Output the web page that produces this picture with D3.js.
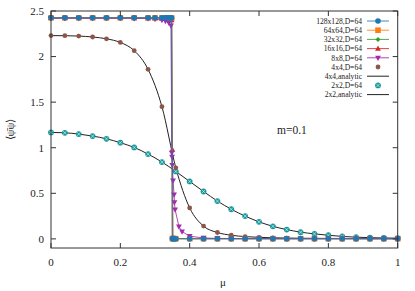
<!DOCTYPE html>
<html><head><meta charset="utf-8">
<script src="https://cdn.jsdelivr.net/npm/d3@7"></script>
<style>body{margin:0;background:#fff}svg{display:block}text{font-family:"Liberation Serif","Times New Roman",serif;fill:#222}</style>
</head><body><svg id="c" width="415" height="291"></svg>
<script>
// ---- data ----
const muCoarse = [0,0.04,0.08,0.12,0.16,0.2,0.24,0.28,0.32,0.36,0.4,0.44,0.48,0.52,0.56,0.6,0.64,0.68,0.72,0.76,0.8,0.84,0.88,0.92,0.96,1.0];
const muLarge = [0,0.04,0.08,0.12,0.16,0.2,0.24,0.28,0.3,0.32,0.33,0.335,0.34,0.343,0.346,0.348,0.35,0.352,0.355,0.36,0.4,0.44,0.48,0.52,0.56,0.6,0.64,0.68,0.72,0.76,0.8,0.84,0.88,0.92,0.96,1.0];
const val128 = [2.425,2.425,2.425,2.425,2.425,2.425,2.425,2.425,2.425,2.425,2.425,2.425,2.425,2.425,2.425,2.424,0.003,0.002,0.002,0.002,0.002,0.002,0.002,0.002,0.002,0.002,0.002,0.002,0.002,0.002,0.002,0.002,0.002,0.002,0.002,0.002];
const val64  = [2.425,2.425,2.425,2.425,2.425,2.425,2.425,2.425,2.425,2.425,2.425,2.425,2.425,2.425,2.424,2.423,0.004,0.003,0.002,0.002,0.002,0.002,0.002,0.002,0.002,0.002,0.002,0.002,0.002,0.002,0.002,0.002,0.002,0.002,0.002,0.002];
const val32  = [2.424,2.424,2.424,2.424,2.424,2.424,2.424,2.424,2.424,2.424,2.423,2.423,2.422,2.421,2.42,2.418,0.006,0.004,0.003,0.002,0.002,0.002,0.002,0.002,0.002,0.002,0.002,0.002,0.002,0.002,0.002,0.002,0.002,0.002,0.002,0.002];
const val16  = [2.423,2.423,2.423,2.423,2.423,2.423,2.423,2.422,2.421,2.419,2.417,2.415,2.413,2.41,2.405,2.4,0.98,0.012,0.006,0.004,0.002,0.002,0.002,0.002,0.002,0.002,0.002,0.002,0.002,0.002,0.002,0.002,0.002,0.002,0.002,0.002];
const mu8  = [0,0.04,0.08,0.12,0.16,0.2,0.24,0.28,0.3,0.32,0.33,0.34,0.346,0.3485,0.3492,0.35,0.352,0.355,0.356,0.358,0.369,0.378,0.4,0.44,0.48,0.52,0.56,0.6,0.64,0.68,0.72,0.76,0.8,0.84,0.88,0.92,0.96,1.0];
const val8 = [2.422,2.422,2.422,2.422,2.422,2.421,2.42,2.418,2.41,2.4,2.39,2.37,2.34,0.945,0.9,0.81,0.64,0.485,0.4,0.32,0.135,0.08,0.03,0.01,0.005,0.004,0.003,0.003,0.003,0.003,0.003,0.003,0.003,0.003,0.003,0.003,0.003,0.003];
const val4 = [2.23,2.229,2.225,2.215,2.195,2.155,2.065,1.86,1.45,0.78,0.34,0.14,0.07,0.04,0.025,0.017,0.012,0.009,0.007,0.006,0.005,0.004,0.004,0.003,0.003,0.003];
const val2 = [1.168,1.164,1.15,1.128,1.098,1.055,1.003,0.93,0.843,0.74,0.63,0.52,0.415,0.325,0.25,0.187,0.138,0.102,0.074,0.055,0.04,0.027,0.019,0.013,0.01,0.008];
const xTicks = [0,0.2,0.4,0.6,0.8,1];
const yTicks = [0,0.5,1,1.5,2,2.5];
const xTickLabels = ["0","0.2","0.4","0.6","0.8","1"];
const yTickLabels = ["0","0.5","1","1.5","2","2.5"];
const legendLabels = ["128x128,D=64","64x64,D=64","32x32,D=64","16x16,D=64","8x8,D=64","4x4,D=64","4x4,analytic","2x2,D=64","2x2,analytic"];

// ---- chart ----
const svg = d3.select("#c");
const L=51,R=397.7,T=11,B=248;
const x = d3.scaleLinear().domain([0,1]).range([L,R]);
const y = d3.scaleLinear().domain([-0.1,2.5]).range([B,T]);
const C = {blue:"#1f77b4",orange:"#ff7f0e",green:"#2ca02c",red:"#d62728",purple:"#a42aa8",brown:"#8c564b",teal:"#17979b",black:"#222"};

const gPlot = svg.append("g");
const line = d3.line().x(d=>x(d[0])).y(d=>y(d[1]));
const smooth = d3.line().x(d=>x(d[0])).y(d=>y(d[1])).curve(d3.curveMonotoneX);
const zip=(a,b)=>a.map((v,i)=>[v,b[i]]);

function marker(g, type, cx, cy, col){
  if(type==="circle") g.append("circle").attr("cx",cx).attr("cy",cy).attr("r",2.8).attr("fill",col);
  else if(type==="square") g.append("rect").attr("x",cx-2.8).attr("y",cy-2.8).attr("width",5.6).attr("height",5.6).attr("fill",col);
  else if(type==="diamond") g.append("path").attr("d",`M${cx},${cy-2.5}L${cx+2.5},${cy}L${cx},${cy+2.5}L${cx-2.5},${cy}Z`).attr("fill",col);
  else if(type==="tup") g.append("path").attr("d",`M${cx},${cy-3.1}L${cx+2.9},${cy+2.1}L${cx-2.9},${cy+2.1}Z`).attr("fill",col);
  else if(type==="tdown") g.append("path").attr("d",`M${cx},${cy+3.1}L${cx+2.9},${cy-2.1}L${cx-2.9},${cy-2.1}Z`).attr("fill",col);
  else if(type==="dot") g.append("circle").attr("cx",cx).attr("cy",cy).attr("r",2.4).attr("fill",col);
  else if(type==="star"){
    g.append("circle").attr("cx",cx).attr("cy",cy).attr("r",2.9).attr("fill",col);
    g.append("path").attr("d",`M${cx-1.9},${cy-1.9}L${cx+1.9},${cy+1.9}M${cx-1.9},${cy+1.9}L${cx+1.9},${cy-1.9}`).attr("stroke","#fff").attr("stroke-width",0.55);
  }
}

const series = [
  {mu:muLarge,v:val16,col:C.red,m:"tup"},
  {mu:muLarge,v:val32,col:C.green,m:"diamond"},
  {mu:muLarge,v:val64,col:C.orange,m:"square"},
  {mu:mu8,v:val8,col:C.purple,m:"tdown"},
  {mu:muLarge,v:val128,col:C.blue,m:"circle"},
];
// analytic lines
gPlot.append("path").attr("d",smooth(zip(muCoarse,val2))).attr("fill","none").attr("stroke",C.black).attr("stroke-width",1);
gPlot.append("path").attr("d",smooth(zip(muCoarse,val4))).attr("fill","none").attr("stroke",C.black).attr("stroke-width",1);
muCoarse.forEach((m,i)=>marker(gPlot,"star",x(m),y(val2[i]),C.teal));
muCoarse.forEach((m,i)=>marker(gPlot,"dot",x(m),y(val4[i]),C.brown));
series.forEach(s=>{
  gPlot.append("path").attr("d",line(zip(s.mu,s.v))).attr("fill","none").attr("stroke",s.col).attr("stroke-width",1).attr("opacity",0.85);
  s.mu.forEach((m,i)=>marker(gPlot,s.m,x(m),y(s.v[i]),s.col));
});

// frame and ticks
const axc="#333";
svg.append("rect").attr("x",L).attr("y",T).attr("width",R-L).attr("height",B-T).attr("fill","none").attr("stroke",axc).attr("stroke-width",1);
xTicks.forEach((t,i)=>{
  svg.append("line").attr("x1",x(t)).attr("x2",x(t)).attr("y1",B).attr("y2",B-5).attr("stroke",axc);
  svg.append("line").attr("x1",x(t)).attr("x2",x(t)).attr("y1",T).attr("y2",T+5).attr("stroke",axc);
  svg.append("text").attr("x",x(t)).attr("y",265.5).attr("text-anchor","middle").attr("font-size",11).text(xTickLabels[i]);
});
yTicks.forEach((t,i)=>{
  svg.append("line").attr("x1",L).attr("x2",L+5).attr("y1",y(t)).attr("y2",y(t)).attr("stroke",axc);
  svg.append("line").attr("x1",R).attr("x2",R-5).attr("y1",y(t)).attr("y2",y(t)).attr("stroke",axc);
  svg.append("text").attr("x",44).attr("y",y(t)+3.8).attr("text-anchor","end").attr("font-size",11).text(yTickLabels[i]);
});
svg.append("text").attr("x",223).attr("y",285.5).attr("text-anchor","middle").attr("font-size",11).text("\u03bc");
svg.append("text").attr("transform","translate(14,129.5) rotate(-90)").attr("text-anchor","middle").attr("font-size",11).text("\u27e8\u03c8\u0304\u03c8\u27e9");
svg.append("text").attr("x",277).attr("y",134).attr("font-size",11.5).text("m=0.1");

// legend
const legItems = [
  {col:C.blue,m:"circle",ln:true},{col:C.orange,m:"square",ln:true},{col:C.green,m:"diamond",ln:true},
  {col:C.red,m:"tup",ln:true},{col:C.purple,m:"tdown",ln:true},{col:C.brown,m:"dot",ln:false},
  {col:C.black,m:null,ln:true},{col:C.teal,m:"star",ln:false},{col:C.black,m:null,ln:true}];
const lg = svg.append("g");
legItems.forEach((it,i)=>{
  const yy = 21 + i*9.2;
  lg.append("text").attr("x",362).attr("y",yy+2.7).attr("text-anchor","end").attr("font-size",7.6).text(legendLabels[i]);
  if(it.ln) lg.append("line").attr("x1",367).attr("x2",389).attr("y1",yy).attr("y2",yy).attr("stroke",it.col).attr("stroke-width",1).attr("opacity",it.m?0.85:1);
  if(it.m) marker(lg,it.m,378,yy,it.col);
});
</script></body></html>
